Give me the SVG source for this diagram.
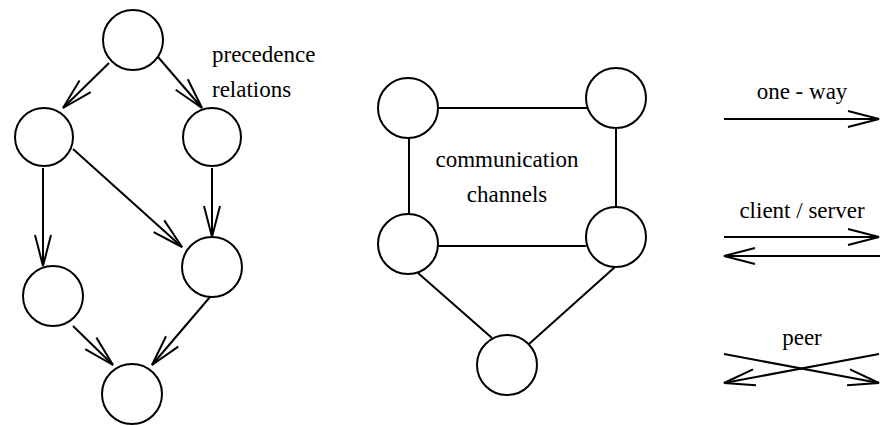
<svg xmlns="http://www.w3.org/2000/svg" width="880" height="426" viewBox="0 0 880 426">
  <style>
    .node { fill: #ffffff; stroke: #000000; stroke-width: 2; }
    .edge { fill: none; stroke: #000000; stroke-width: 2; }
    .arrow { marker-end: url(#head); }
    .label { font-family: "Liberation Serif", "Times New Roman", serif; font-size: 23px; fill: #000000; }
  </style>
  <defs>
    <!-- open V arrowhead drawn at 1:1 user units -->
    <marker id="head" viewBox="-34 -10 36 20" refX="0" refY="0" markerWidth="36" markerHeight="20" markerUnits="userSpaceOnUse" orient="auto" overflow="visible">
      <path d="M -31 -8 L 0 0 L -31 8" fill="none" stroke="#000000" stroke-width="2"/>
    </marker>
  </defs>

  <rect width="880" height="426" fill="#ffffff"/>

  <!-- precedence graph -->
  <g id="p-top"><circle class="node" cx="133" cy="40" r="30"/></g>
  <g id="p-left"><circle class="node" cx="44" cy="137" r="29"/></g>
  <g id="p-right"><circle class="node" cx="212" cy="137" r="29"/></g>
  <g id="p-lower-left"><circle class="node" cx="53" cy="296" r="30"/></g>
  <g id="p-lower-right"><circle class="node" cx="212" cy="267" r="30"/></g>
  <g id="p-bottom"><circle class="node" cx="132" cy="394" r="30"/></g>

  <!-- communication graph -->
  <g id="c-top-left"><circle class="node" cx="408" cy="108" r="30"/></g>
  <g id="c-top-right"><circle class="node" cx="616" cy="98" r="30"/></g>
  <g id="c-mid-left"><circle class="node" cx="408" cy="244" r="30"/></g>
  <g id="c-mid-right"><circle class="node" cx="616" cy="237" r="30"/></g>
  <g id="c-bottom"><circle class="node" cx="507" cy="365" r="30"/></g>

  <g id="connectors">
    <!-- precedence relations -->
    <line class="edge arrow" x1="109" y1="63" x2="63" y2="108"/>
    <line class="edge arrow" x1="158" y1="57" x2="202" y2="108"/>
    <line class="edge arrow" x1="43" y1="168" x2="43" y2="266"/>
    <line class="edge arrow" x1="73" y1="149" x2="182" y2="247"/>
    <line class="edge arrow" x1="212" y1="168" x2="212" y2="237"/>
    <line class="edge arrow" x1="73" y1="326" x2="113" y2="365"/>
    <line class="edge arrow" x1="210" y1="297" x2="152" y2="365"/>

    <!-- communication channels -->
    <line class="edge" x1="438" y1="108" x2="587" y2="108"/>
    <line class="edge" x1="409" y1="138" x2="409" y2="214"/>
    <line class="edge" x1="616" y1="128" x2="616" y2="207"/>
    <line class="edge" x1="438" y1="246" x2="586" y2="246"/>
    <line class="edge" x1="418" y1="273" x2="492" y2="338"/>
    <line class="edge" x1="615" y1="267" x2="529" y2="344"/>

    <!-- legend -->
    <line class="edge arrow" x1="724" y1="119" x2="879" y2="119"/>
    <line class="edge arrow" x1="724" y1="237" x2="879" y2="237"/>
    <line class="edge arrow" x1="880" y1="256" x2="724" y2="256"/>
    <line class="edge arrow" x1="724" y1="354" x2="879" y2="383"/>
    <line class="edge arrow" x1="879" y1="354" x2="724" y2="383"/>
  </g>

  <g id="labels">
    <text class="label" x="212" y="62">precedence</text>
    <text class="label" x="212" y="97">relations</text>
    <text class="label" x="507" y="167" text-anchor="middle">communication</text>
    <text class="label" x="507" y="202" text-anchor="middle">channels</text>
    <text class="label" x="802" y="99" text-anchor="middle">one - way</text>
    <text class="label" x="802" y="218" text-anchor="middle">client / server</text>
    <text class="label" x="802" y="345" text-anchor="middle">peer</text>
  </g>
</svg>
